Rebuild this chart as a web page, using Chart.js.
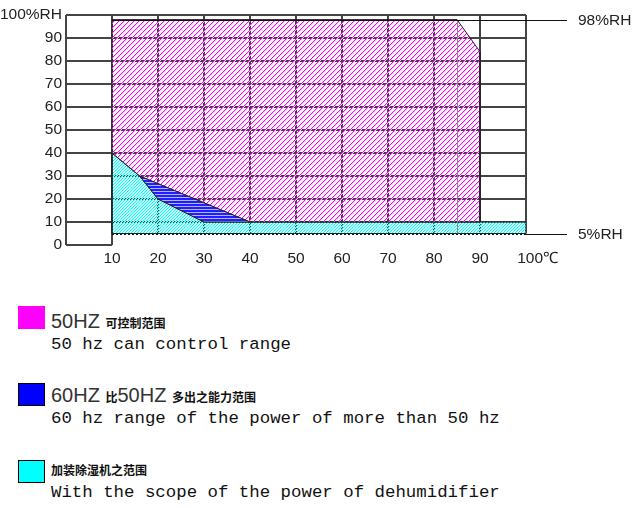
<!DOCTYPE html>
<html>
<head>
<meta charset="utf-8">
<script src="https://cdn.jsdelivr.net/npm/chart.js@4.4.1/dist/chart.umd.min.js"></script>
<style>
  html, body { margin: 0; padding: 0; background: #fff; }
  #wrap { position: relative; width: 643px; height: 508px; overflow: hidden; }
  #chart { position: absolute; left: 0; top: 0; }
  .swatch { position: absolute; left: 18px; width: 25px; height: 21px; border: 1px solid #000; }
  .head { position: absolute; left: 51px; font-family: "Liberation Sans", sans-serif; font-size: 20px; line-height: 20px; color: #333; white-space: pre; }
  .head .cjk { font-family: "Noto Sans CJK SC"; font-weight: bold; font-size: 12px; color: #111; }
  .sub { position: absolute; left: 51px; font-family: "Liberation Mono", monospace; font-size: 17.4px; line-height: 18px; color: #111; white-space: pre; }
</style>
</head>
<body>
<div id="wrap">
  <canvas id="chart" width="643" height="270"></canvas>
  <div id="legend"></div>
</div>
<script>
// temperature (°C) / humidity (%RH) envelopes
const xTickLabels = ['', '10', '20', '30', '40', '50', '60', '70', '80', '90', '\u2003\u2002100℃'];
const yTickLabels = ['0', '10', '20', '30', '40', '50', '60', '70', '80', '90', '100%RH'];

const range50X = [10, 10, 85, 90, 90, 40, 16, 10];
const range50Y = [40, 98, 98, 84, 10, 10, 30, 40];

const range60X = [16, 40, 30, 20, 16];
const range60Y = [30, 10, 10, 20, 30];

const dehumX = [10, 10, 100, 100, 30, 20, 16, 10];
const dehumY = [40, 5, 5, 10, 10, 20, 30, 40];

const limitValues = [98, 5];
const limitLabels = ['98%RH', '5%RH'];
const cornerX = 85;

const legendHeads = ['50HZ 可控制范围', '60HZ 比50HZ 多出之能力范围', '加装除湿机之范围'];
const legendSubs = [
    '50 hz can control range',
    '60 hz range of the power of more than 50 hz',
    'With the scope of the power of dehumidifier'
];

const swatchColors = ['#ff00ff', '#0000ff', '#00ffff'];
const swatchBorders = ['#ff00ff', '#000', '#000'];

// hatch patterns, drawn pixel by pixel so they stay crisp
function makePattern(w, h, pixel) {
    const c = document.createElement('canvas');
    c.width = w;
    c.height = h;
    const g = c.getContext('2d');
    for (let i = 0; i < w; i++) {
        for (let j = 0; j < h; j++) {
            const col = pixel(i, j);
            if (col) {
                g.fillStyle = col;
                g.fillRect(i, j, 1, 1);
            }
        }
    }
    return g.createPattern(c, 'repeat');
}

const magentaHatch = makePattern(5, 5, (i, j) => {
    const d = (i + j) % 5;
    if (d === 4) return '#ff00ff';
    if (d === 0) return '#ffc4ff';
    return null;
});
const cyanHatch = makePattern(3, 3, (i, j) => {
    const d = (i + j) % 3;
    if (d === 0) return '#00ffff';
    if (d === 1) return '#a8ffff';
    return null;
});
const blueHatch = makePattern(1, 3, (i, j) => (j === 2 ? '#b4b4ff' : '#2020ff'));

const toPoints = (xs, ys) => xs.map((x, i) => ({ x: x, y: ys[i] }));

const gridPlugin = {
    id: 'chartGrid',
    beforeDatasetsDraw(chart) {
        const { ctx, scales: { x, y } } = chart;
        const line = (x1, y1, x2, y2) => {
            ctx.beginPath();
            ctx.moveTo(x.getPixelForValue(x1), y.getPixelForValue(y1));
            ctx.lineTo(x.getPixelForValue(x2), y.getPixelForValue(y2));
            ctx.stroke();
        };
        ctx.save();
        ctx.strokeStyle = '#444';
        ctx.lineWidth = 2;
        for (let v = 10; v <= 100; v += 10) line(0, v, 100, v);
        line(0, 0, 10, 0);
        line(0, 100, 0, 0);
        line(10, 100, 10, 0);
        for (let v = 20; v <= 100; v += 10) line(v, 100, v, 5);
        ctx.restore();
    },
    afterDatasetsDraw(chart) {
        const { ctx, chartArea, scales: { x, y } } = chart;
        const outEnd = chartArea.right + 41;
        ctx.save();
        ctx.strokeStyle = '#888';
        ctx.lineWidth = 1;
        ctx.beginPath();
        ctx.moveTo(Math.round(x.getPixelForValue(cornerX)) + 0.5, y.getPixelForValue(limitValues[0]));
        ctx.lineTo(Math.round(x.getPixelForValue(cornerX)) + 0.5, y.getPixelForValue(limitValues[1]));
        ctx.stroke();

        ctx.strokeStyle = '#111';
        ctx.fillStyle = '#222';
        ctx.font = '15.5px "Liberation Sans"';
        ctx.textBaseline = 'middle';
        limitValues.forEach((v, i) => {
            const py = Math.round(y.getPixelForValue(v)) + 0.5;
            ctx.setLineDash(i === 1 ? [2, 2] : []);
            ctx.beginPath();
            ctx.moveTo(x.getPixelForValue(10), py);
            ctx.lineTo(chartArea.right, py);
            ctx.stroke();
            ctx.setLineDash([]);
            ctx.beginPath();
            ctx.moveTo(chartArea.right, py);
            ctx.lineTo(outEnd, py);
            ctx.stroke();
            ctx.fillText(limitLabels[i], outEnd + 11, py);
        });
        ctx.restore();
    }
};

const areaStyle = {
    type: 'line',
    fill: 'shape',
    borderColor: '#222',
    borderWidth: 1,
    pointRadius: 0,
    tension: 0
};

const tickFont = { family: 'Liberation Sans', size: 15.5 };

new Chart(document.getElementById('chart'), {
    type: 'line',
    data: {
        datasets: [
            { ...areaStyle, label: '60HZ', data: toPoints(range60X, range60Y), backgroundColor: blueHatch },
            { ...areaStyle, label: '50HZ', data: toPoints(range50X, range50Y), backgroundColor: magentaHatch },
            { ...areaStyle, label: 'dehumidifier', data: toPoints(dehumX, dehumY), backgroundColor: cyanHatch }
        ]
    },
    options: {
        responsive: false,
        animation: false,
        devicePixelRatio: 1,
        layout: { padding: { left: 0, top: 15, right: 117, bottom: 0 } },
        plugins: {
            legend: { display: false },
            tooltip: { enabled: false }
        },
        scales: {
            x: {
                type: 'linear',
                min: 0,
                max: 100,
                grid: { display: false, drawTicks: false },
                border: { display: false },
                ticks: {
                    stepSize: 10,
                    autoSkip: false,
                    maxRotation: 0,
                    padding: 4,
                    color: '#222',
                    font: tickFont,
                    callback: v => xTickLabels[v / 10]
                },
                afterFit: s => { s.height = 25; }
            },
            y: {
                min: 0,
                max: 100,
                grid: { display: false, drawTicks: false },
                border: { display: false },
                ticks: {
                    stepSize: 10,
                    padding: 4,
                    color: '#222',
                    font: tickFont,
                    callback: v => yTickLabels[v / 10]
                },
                afterFit: s => { s.width = 66; }
            }
        }
    },
    plugins: [gridPlugin]
});

const legend = document.getElementById('legend');
legendHeads.forEach((head, i) => {
    const sw = document.createElement('div');
    sw.className = 'swatch';
    sw.style.top = (306 + i * 77) + 'px';
    sw.style.background = swatchColors[i];
    sw.style.borderColor = swatchBorders[i];
    const h = document.createElement('div');
    h.className = 'head';
    h.style.top = (311 + i * 73.5) + 'px';
    h.innerHTML = head.replace(/([\u4e00-\u9fff]+)/g, '<span class="cjk">$1</span>');
    const s = document.createElement('div');
    s.className = 'sub';
    s.style.top = (335.5 + i * 74) + 'px';
    s.textContent = legendSubs[i];
    legend.append(sw, h, s);
});
</script>
</body>
</html>
